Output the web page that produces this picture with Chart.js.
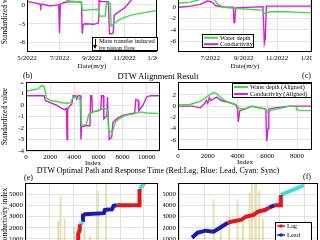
<!DOCTYPE html>
<html>
<head>
<meta charset="utf-8">
<script src="https://cdn.jsdelivr.net/npm/chart.js@4.4.0/dist/chart.umd.min.js"></script>
<style>
body { margin: 0; width: 320px; height: 240px; overflow: hidden; background: #fff; position: relative; font-family: "Liberation Serif", serif; }
.p { position: absolute; }
.t { position: absolute; color: #000; white-space: nowrap; line-height: 1.1; }
.ann { position: absolute; border: 1px solid #000; background: #fff; font-size: 6.3px; line-height: 6.5px; padding: 0 0 0 6px; box-sizing: border-box; }
.arrow { position: absolute; left: 1.5px; top: 1px; width: 1.6px; height: 7px; background: #000; }
.arrow::after { content: ""; position: absolute; left: -1.7px; top: 6px; border-left: 2.5px solid transparent; border-right: 2.5px solid transparent; border-top: 4px solid #000; }
</style>
</head>
<body>
<div class="p" style="left:0;top:-21px;width:157px;height:91px"><canvas id="ca"></canvas></div>
<div class="p" style="left:168px;top:-16px;width:144px;height:86px"><canvas id="cb"></canvas></div>
<div class="p" style="left:0;top:82px;width:160px;height:85px"><canvas id="cc"></canvas></div>
<div class="p" style="left:168px;top:82px;width:144px;height:84px"><canvas id="cd"></canvas></div>
<div class="p" style="left:0;top:183px;width:158px;height:83px"><canvas id="ce"></canvas></div>
<div class="p" style="left:163px;top:183px;width:155px;height:83px"><canvas id="cf"></canvas></div>

<div class="ann" style="left:92px;top:37px;width:66px;height:14px"><div class="arrow"></div>Mass transfer induced<br>by piston flow</div>
<div class="t" style="left:23px;top:72px;font-size:8px">(b)</div>
<div class="t" style="left:0;width:316px;text-align:center;top:72px;font-size:8.5px">DTW Alignment Result</div>
<div class="t" style="left:302px;top:72px;font-size:8px">(c)</div>
<div class="t" style="left:0;width:316px;text-align:center;top:167px;font-size:8px">DTW Optimal Path and Response Time (Red:Lag, Blue: Lead, Cyan: Sync)</div>
<div class="t" style="left:24px;top:174px;font-size:8px">(e)</div>
<div class="t" style="left:303px;top:173px;font-size:8px">(f)</div>

<script>
const SERIF = '"Liberation Serif", "DejaVu Serif", serif';
const GREEN = '#3ddc3d';
const MAGENTA = '#d21fd2';
const RED = '#e5141a';
const BLUE = '#1a1ab4';
const CYAN = '#3fdce0';

// series names
const seriesNames = ['Water depth', 'Conductivity'];
const alignedNames = ['Water depth (Aligned)', 'Conductivity (Aligned)'];
const pathNames = ['Lag', 'Lead', 'Sync'];

// (a) raw series, x in months after 5/2022
const monthTicks = [0, 2, 4, 6, 8];
const monthLabels = ['5/2022', '7/2022', '9/2022', '11/2022', '1/2023'];
const aCondM = [0, 0.5, 0.8, 0.85, 0.9, 1.1, 1.4, 1.7, 1.95, 2.0, 2.05, 2.3, 2.9, 3.35, 3.4, 3.45, 3.55, 4.1, 4.4, 4.45, 4.5, 5.0, 5.08, 5.15, 5.3, 5.37, 5.6, 6.0, 6.5, 8];
const aCondV = [0.5, 0.3, 0.1, -0.3, 0.1, 0.0, -0.2, -0.1, 0.0, -4.5, 0.1, 0.4, 0.5, 0.4, -4.6, -3.2, -3.0, -3.1, -2.9, 1.5, 0.5, 0.5, -4.6, -4.6, -4.5, -1.6, -1.2, -0.5, 1.0, 2.5];
const aDepthM = [2.13, 2.4, 2.62, 3.0, 3.35, 3.41, 3.8, 4.39, 4.45, 4.5, 4.82, 4.88, 5.12, 5.18, 5.4, 5.67, 6.0, 6.46, 7.32, 8.0];
const aDepthV = [1.2, 0.8, 0.6, 0.5, 0.5, -0.9, -0.8, -0.7, -1.9, -1.8, -1.8, 0.3, 0.3, -3.4, -2.9, -2.4, -2.0, -1.6, -1.2, -0.9];

// (b) detrended series
const bCondM = [0.06, 0.8, 1.4, 1.82, 2.12, 2.3, 2.9, 3.38, 3.42, 3.47, 3.52, 5.15, 5.2, 5.24, 5.3, 5.36, 8.1];
const bCondV = [0.0, 0.2, 0.5, 1.1, 0.9, 0.3, 0.0, 0.0, -2.7, -2.2, -0.1, 0.1, -3.0, -6.3, -5.5, 0.2, 0.2];
const bDepthM = [0.06, 0.8, 1.3, 1.7, 2.0, 2.2, 2.45, 2.8, 3.5, 4.5, 5.1, 5.2, 5.6, 6.5, 7.3, 8.1];
const bDepthV = [0.7, 0.9, 1.3, 2.0, 2.5, 1.5, 0.5, 0.0, -0.2, -0.4, -0.5, -1.1, -0.8, -0.8, -0.9, -1.0];

// DTW alignment, left
const mlDepthIdx = [0, 500, 1000, 1300, 1500, 1700, 2000, 2500, 3000, 3400, 3700, 3900, 4300, 4500, 4600, 5000, 5200, 5600, 6000, 6500, 6750, 6850, 7200, 7400, 7700, 8200, 9000, 9500, 10000, 11100];
const mlDepth = [1.2, 1.3, 1.4, 1.7, 1.6, 0.6, 0.4, 0.3, 0.2, 0.15, 0.2, 0.7, 0.6, 0.5, -1.8, -1.7, -0.8, -0.6, -0.5, -0.3, -0.4, -2.4, -2.2, -1.5, -1.2, -0.9, -0.75, -0.6, -0.7, -0.75];
const mlCondIdx = [0, 1500, 1600, 2000, 2500, 2800, 3200, 3350, 3400, 3450, 3800, 3900, 4100, 4200, 4300, 4500, 4550, 4600, 5000, 5300, 5350, 5450, 5500, 5900, 6200, 6250, 6400, 6450, 6700, 6750, 6800, 6900, 7100, 7200, 7500, 8000, 8500, 9000, 9100, 9300, 9350, 9700, 10000, 10300, 11100];
const mlCond = [0.8, 0.8, 0.4, 0.2, 0, -0.2, -0.4, -0.3, -3.0, -0.3, 0.1, 0.8, 0.8, 0.5, 0.8, 0.8, -3.0, -1.9, -1.8, -1.8, 0.8, 0.8, -0.6, -0.5, -0.4, 0.8, 0.8, -1.2, -0.9, 0.7, -0.8, -3.0, -2.8, -1.5, -1.2, -0.9, -0.8, -0.7, 0.5, 0.4, -0.5, 0, 0.7, 0.8, 0.8];

// DTW alignment, right
const mrDepthIdx = [0, 800, 1200, 1600, 2000, 2300, 2500, 2700, 3000, 3400, 3900, 4100, 4500, 4900, 5200, 5700, 5900, 6000, 6300, 7000, 7500, 7900, 8000, 8500, 9000];
const mrDepth = [0.2, 0.3, 0.6, 1.0, 1.8, 2.3, 2.4, 2.0, 1.2, 0.7, 0.3, -0.4, -0.5, 0, -0.2, -0.4, -0.6, -1.1, -0.7, -0.3, 0, 0, -0.7, -0.8, -0.8];
const mrCondIdx = [0, 1000, 1500, 1800, 1900, 2000, 2100, 2200, 2600, 2900, 3500, 3900, 4000, 4050, 4150, 4500, 4700, 5000, 5500, 5900, 5950, 6050, 6100, 6500, 7500, 9000];
const mrCond = [0, 0, -0.3, 0.5, 1.0, 0.5, 1.5, 1.0, 1.6, 1.0, 0.6, 0.2, -0.5, -2.8, -0.8, -0.5, -0.3, 0, -0.3, -0.5, -6.2, -4, -0.5, -0.3, 0, 0];

// optimal path, left (x: water depth index, y: conductivity index)
const blLag1X = [3410, 3410, 3550, 3550];
const blLag1Y = [0, 1400, 1800, 2300];
const blSync1X = [3550, 3820];
const blSync1Y = [2300, 2500];
const blLeadX = [3820, 3820, 4000, 5600, 5700, 6300, 6450, 6700];
const blLeadY = [2500, 3100, 3200, 3300, 3600, 3650, 3950, 4000];
const blLag2X = [6700, 8660, 8660];
const blLag2Y = [4000, 4000, 5470];
const blSync2X = [8660, 9100];
const blSync2Y = [5470, 6000];
const blBarX = [1700, 1900, 2250, 3070, 3340, 3950, 4430, 5110, 5800];
const blBarH = [2600, 4800, 2800, 2000, 1900, 2000, 1200, 5300, 5900];

// optimal path, right
const brLead1X = [0, 450, 1090, 1740, 2890];
const brLead1Y = [1100, 1550, 1730, 1640, 2440];
const brLag1X = [2890, 3150, 3990, 4310, 4950, 5270, 5910, 6200];
const brLag1Y = [2440, 2530, 2710, 2980, 3150, 3420, 3600, 3800];
const brLead2X = [6200, 6600];
const brLead2Y = [3800, 4000];
const brLag2X = [6600, 7140, 7140];
const brLag2Y = [4000, 4000, 4930];
const brSyncX = [7140, 9000];
const brSyncY = [4930, 5800];
const brBarX = [1000, 1740, 2300, 3000, 3660, 4100, 4630, 4820, 5140, 5400, 5700];
const brBarH = [1500, 4500, 2500, 3000, 4500, 2600, 5100, 6000, 6000, 5300, 2800];

const idxTicks = [0, 2000, 4000, 6000, 8000, 10000];
const condTicks = [0, 1000, 2000, 3000, 4000, 5000];

Chart.defaults.font.family = SERIF;
Chart.defaults.color = '#000';

function pts(xs, ys) { return xs.map((x, i) => ({ x: x, y: ys[i] })); }

function lineDs(label, xs, ys, color, width) {
    return { type: 'line', label: label, data: pts(xs, ys), borderColor: color, backgroundColor: color,
        borderWidth: width, pointRadius: 0, fill: false, tension: 0, order: 1 };
}

function barDs(xs, hs) {
    return { type: 'bar', data: pts(xs, hs), backgroundColor: 'rgba(214,206,128,0.65)', barThickness: 1.2, order: 2 };
}

function xAxis(min, max, ticks, labels, title, h) {
    return {
        type: 'linear', min: min, max: max,
        afterBuildTicks: a => { a.ticks = ticks.map(v => ({ value: v })); },
        afterFit: a => { a.height = h; a.paddingLeft = 0; a.paddingRight = 0; },
        grid: { color: '#dadada', drawTicks: false, lineWidth: 0.8 },
        border: { display: false },
        ticks: { padding: 2, font: { size: 7 }, color: '#000', maxRotation: 0, autoSkip: false,
            callback: (v, i) => labels ? labels[i] : String(v) },
        title: { display: !!title, text: title, font: { size: 7 }, color: '#000', padding: { top: 0, bottom: 0 } }
    };
}

function yAxis(min, max, ticks, title, w) {
    return {
        type: 'linear', min: min, max: max,
        afterBuildTicks: a => { a.ticks = ticks.map(v => ({ value: v })); },
        afterFit: a => { a.width = w; a.paddingTop = 0; a.paddingBottom = 0; },
        grid: { color: '#dadada', drawTicks: false, lineWidth: 0.8 },
        border: { display: false },
        ticks: { padding: 2, font: { size: 7 }, color: '#000', autoSkip: false, callback: v => String(v) },
        title: { display: !!title, text: title, font: { size: 7.5 }, color: '#000', padding: { top: 1, bottom: 0 } }
    };
}

const frame = {
    id: 'frame',
    afterDraw(chart) {
        const c = chart.ctx, a = chart.chartArea;
        c.save();
        c.strokeStyle = '#000'; c.lineWidth = 1;
        c.strokeRect(Math.round(a.left) + 0.5, Math.round(a.top) + 0.5, Math.round(a.right - a.left) - 1, Math.round(a.bottom - a.top) - 1);
        c.restore();
    }
};

const boxLegend = {
    id: 'boxLegend',
    afterDraw(chart, args, o) {
        if (!o || !o.rows) return;
        const c = chart.ctx;
        c.save();
        c.fillStyle = '#fff'; c.fillRect(o.x, o.y, o.w, o.h);
        c.strokeStyle = '#000'; c.lineWidth = 1; c.strokeRect(o.x + 0.5, o.y + 0.5, o.w - 1, o.h - 1);
        c.font = o.size + 'px ' + SERIF; c.textBaseline = 'middle';
        o.rows.forEach((r, i) => {
            const y = o.y + o.pad + i * o.rowH;
            c.strokeStyle = r.color; c.lineWidth = o.lw;
            c.beginPath(); c.moveTo(o.x + 2, y); c.lineTo(o.x + 2 + o.sw, y); c.stroke();
            if (o.marker) { c.fillStyle = r.color; c.fillRect(o.x + 2 + o.sw / 2 - 1.5, y - 1.5, 3, 3); }
            c.fillStyle = '#000'; c.fillText(r.label, o.x + 4 + o.sw, y + 0.5);
        });
        c.restore();
    }
};

function makeChart(id, datasets, xs, ys, legend) {
    return new Chart(document.getElementById(id), {
        type: 'line',
        data: { datasets: datasets },
        options: {
            responsive: true, maintainAspectRatio: false, animation: false,
            layout: { padding: 0 },
            plugins: { legend: { display: false }, tooltip: { enabled: false }, boxLegend: legend || {} },
            scales: { x: xs, y: ys }
        },
        plugins: [frame, boxLegend]
    });
}

makeChart('ca', [
    lineDs(seriesNames[0], aDepthM, aDepthV, GREEN, 1.4),
    lineDs(seriesNames[1], aCondM, aCondV, MAGENTA, 1.4)
], xAxis(0, 8, monthTicks, monthLabels, 'Date(m/y)', 18),
   yAxis(-7.5, 4.1, [-6, -3, 0, 3], 'Standardized value', 27));

makeChart('cb', [
    lineDs(seriesNames[0], bDepthM, bDepthV, GREEN, 1.4),
    lineDs(seriesNames[1], bCondM, bCondV, MAGENTA, 1.4)
], xAxis(0.06, 8.1, [2, 4, 6, 8], monthLabels.slice(1), 'Date(m/y)', 18),
   yAxis(-7.9, 4.1, [-6, -4, -2, 0, 2, 4], '', 10),
   { x: 34, y: 50, w: 52, h: 14, pad: 3.7, rowH: 6.5, sw: 14, lw: 2, size: 6.3,
     rows: [{ label: seriesNames[0], color: GREEN }, { label: seriesNames[1], color: MAGENTA }] });

makeChart('cc', [
    lineDs(seriesNames[0], mlDepthIdx, mlDepth, GREEN, 1.4),
    lineDs(seriesNames[1], mlCondIdx, mlCond, MAGENTA, 1.4)
], xAxis(0, 11100, idxTicks, null, 'Index', 16),
   yAxis(-4, 2, [-4, -3, -2, -1, 0, 1, 2], 'Standardized value', 26));

makeChart('cd', [
    lineDs(alignedNames[0], mrDepthIdx, mrDepth, GREEN, 1.4),
    lineDs(alignedNames[1], mrCondIdx, mrCond, MAGENTA, 1.4)
], xAxis(0, 9000, idxTicks.slice(0, 5), null, 'Index', 16),
   yAxis(-7.8, 4.3, [-6, -4, -2, 0, 2], '', 10),
   { x: 64, y: 1, w: 80, h: 15, pad: 4, rowH: 7, sw: 14, lw: 2, size: 6.1,
     rows: [{ label: alignedNames[0], color: GREEN }, { label: alignedNames[1], color: MAGENTA }] });

makeChart('ce', [
    barDs(blBarX, blBarH),
    lineDs(pathNames[0], blLag1X, blLag1Y, RED, 4),
    lineDs(pathNames[2], blSync1X, blSync1Y, CYAN, 4),
    lineDs(pathNames[1], blLeadX, blLeadY, BLUE, 4),
    lineDs(pathNames[0], blLag2X, blLag2Y, RED, 4),
    lineDs(pathNames[2], blSync2X, blSync2Y, CYAN, 4)
], xAxis(0, 9100, idxTicks.slice(0, 5), null, '', 16),
   yAxis(0, 6000, condTicks, 'Conductivity index', 25));

makeChart('cf', [
    barDs(brBarX, brBarH),
    lineDs(pathNames[1], brLead1X, brLead1Y, BLUE, 4),
    lineDs(pathNames[0], brLag1X, brLag1Y, RED, 4),
    lineDs(pathNames[1], brLead2X, brLead2Y, BLUE, 4),
    lineDs(pathNames[0], brLag2X, brLag2Y, RED, 4),
    lineDs(pathNames[2], brSyncX, brSyncY, CYAN, 4)
], xAxis(0, 9000, idxTicks.slice(0, 5), null, '', 16),
   yAxis(0, 6000, condTicks, '', 15),
   { x: 112, y: 39, w: 37, h: 32, pad: 4, rowH: 9, sw: 8, lw: 1.5, size: 6.5, marker: true,
     rows: [{ label: pathNames[0], color: RED }, { label: pathNames[1], color: BLUE }, { label: pathNames[2], color: CYAN }] });
</script>
</body>
</html>
